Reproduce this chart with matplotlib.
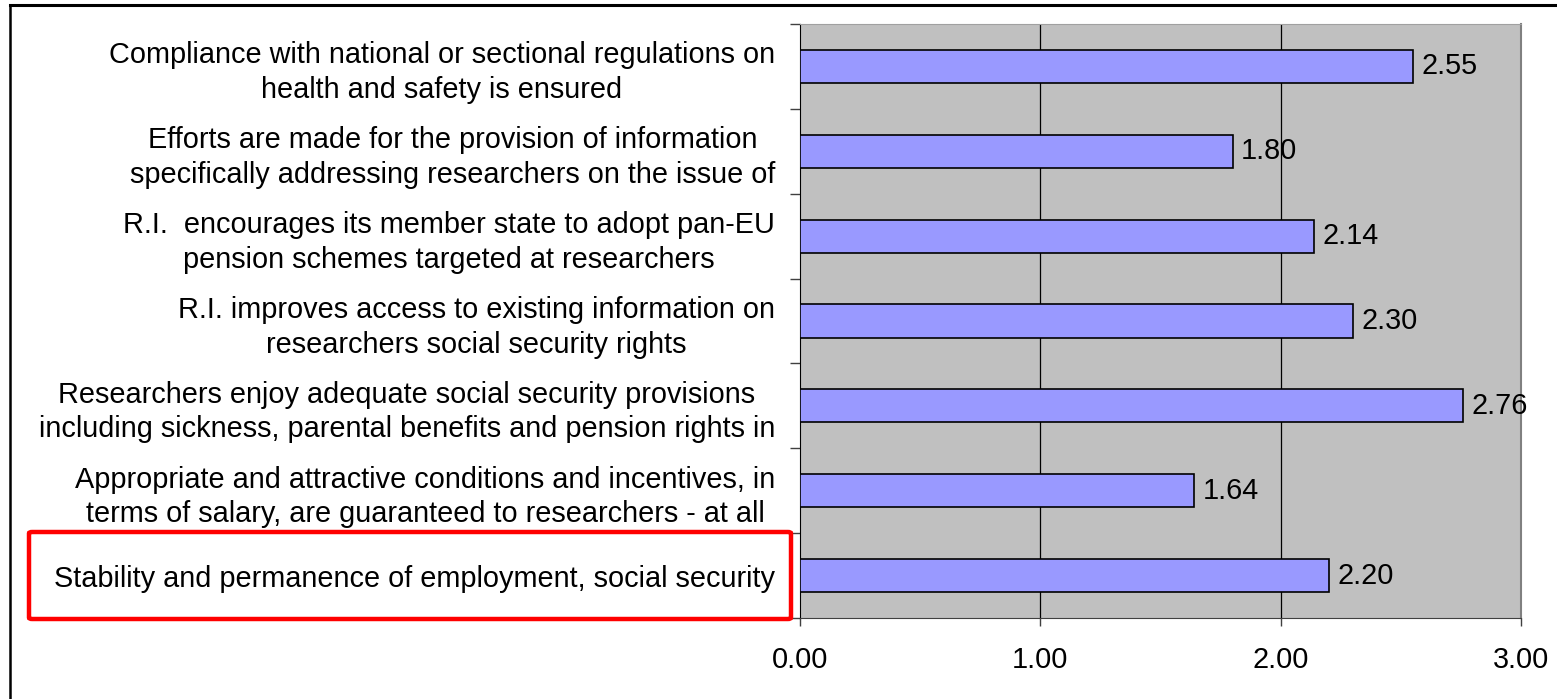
import numpy as np
import matplotlib
matplotlib.use('Agg')
import matplotlib.pyplot as plt
from matplotlib.patches import FancyBboxPatch
from matplotlib.lines import Line2D

# ========== 資料 ==========
labels = [
    "Compliance with national or sectional regulations on\nhealth and safety is ensured",
    "Efforts are made for the provision of information\nspecifically addressing researchers on the issue of",
    "R.I.  encourages its member state to adopt pan-EU\npension schemes targeted at researchers",
    "R.I. improves access to existing information on\nresearchers social security rights",
    "Researchers enjoy adequate social security provisions\nincluding sickness, parental benefits and pension rights in",
    "Appropriate and attractive conditions and incentives, in\nterms of salary, are guaranteed to researchers - at all",
    "Stability and permanence of employment, social security",
]
values = [2.55, 1.80, 2.14, 2.30, 2.76, 1.64, 2.20]
x_ticks = [0, 1, 2, 3]
x_ticklabels = ["0.00", "1.00", "2.00", "3.00"]

plt.rcParams['font.family'] = ['Liberation Sans', 'DejaVu Sans']
FS = 20.8

W, H = 1557, 699
fig = plt.figure(figsize=(W / 100, H / 100), dpi=100)
ax = fig.add_axes([800 / W, 1 - 618 / H, 721 / W, 594 / H])
ax.set_facecolor('#C0C0C0')

n = len(values)
y = np.arange(n)[::-1]
ax.barh(y, values, height=0.39, color='#9999FF', edgecolor='black', linewidth=1.2, zorder=3)
for yi, v in zip(y, values):
    ax.text(v + 0.035, yi, f"{v:.2f}", va='center', ha='left', fontsize=FS, zorder=4)

ax.set_xlim(0, 3)
ax.set_ylim(-0.5, n - 0.5)

# 格線
for gx in [1, 2]:
    ax.axvline(gx, color='black', linewidth=0.9, zorder=1)

# 座標軸
ax.set_xticks(x_ticks)
ax.set_xticklabels(x_ticklabels, fontsize=FS)
ax.tick_params(axis='x', direction='out', length=6, width=1, color='#404040', pad=14)

ax.set_yticks(y)
ax.set_yticklabels(labels, fontsize=FS)
ax.tick_params(axis='y', which='major', length=0, pad=18)
for lab in ax.get_yticklabels():
    lab.set_multialignment('center')
    lab.set_linespacing(1.3)
ax.set_yticks(np.arange(n + 1) - 0.5, minor=True)
ax.tick_params(axis='y', which='minor', direction='out', length=7, width=1, color='#404040')

ax.spines['top'].set_color('#A0A0A0')
ax.spines['right'].set_color('#808080')
ax.spines['right'].set_linewidth(1.5)
ax.spines['left'].set_color('black')
ax.spines['bottom'].set_color('#404040')

# 外框 (只看得到左、上)
fig.add_artist(Line2D([10 / W, 10 / W], [0, 1 - 5 / H], color='black', linewidth=1.8))
fig.add_artist(Line2D([10 / W, 1], [1 - 5 / H, 1 - 5 / H], color='black', linewidth=2.2))

# 紅框標示
fig.add_artist(FancyBboxPatch((29 / W, 1 - 619 / H), 762 / W, 87 / H,
                              boxstyle='round,pad=0,rounding_size=0.002',
                              transform=fig.transFigure, fill=False,
                              edgecolor='#FF0000', linewidth=3.2))

fig.savefig('out.png', dpi=100)
